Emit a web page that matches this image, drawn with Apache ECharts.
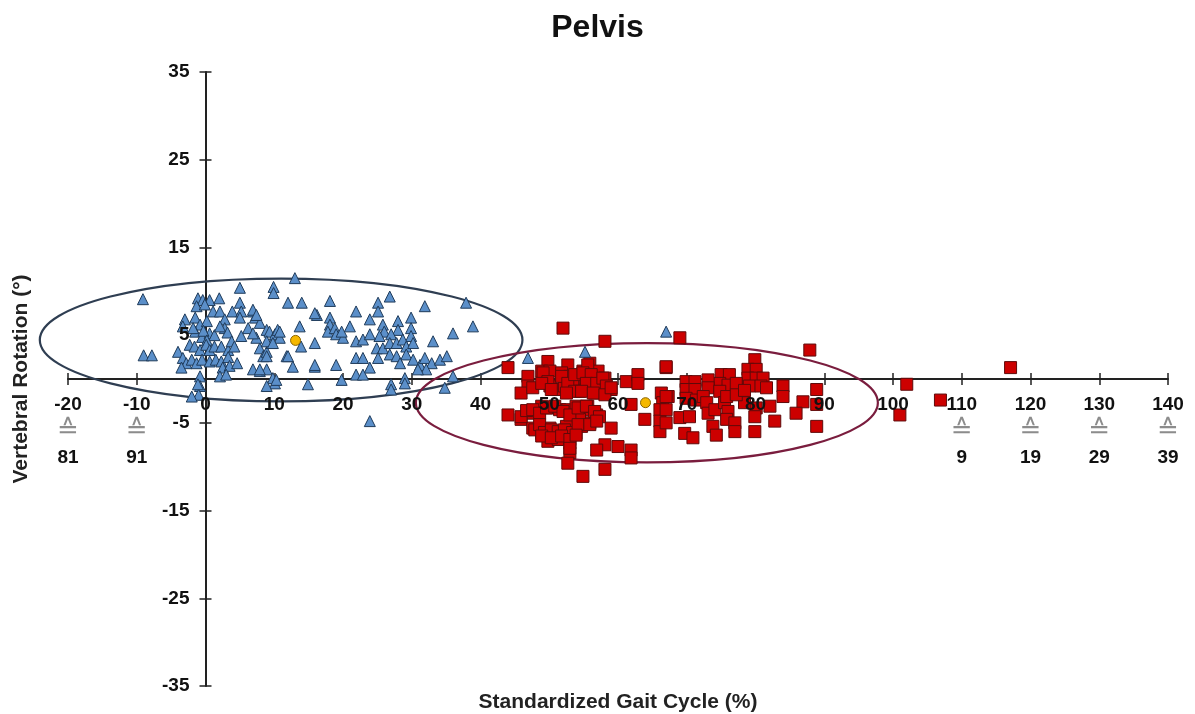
<!DOCTYPE html>
<html>
<head>
<meta charset="utf-8">
<script src="https://cdn.jsdelivr.net/npm/echarts@6/dist/echarts.min.js"></script>
<style>
  html, body { margin: 0; padding: 0; background: #fff; }
  #chart { width: 1195px; height: 714px; }
</style>
</head>
<body>
<div id="chart"></div>
<script>
// x axis ticks and the second label row (gait cycle of the other side)
const xTicks = [-20, -10, 0, 10, 20, 30, 40, 50, 60, 70, 80, 90, 100, 110, 120, 130, 140]
const altTicks = [-20, -10, 110, 120, 130, 140]
const altLabels = ['81', '91', '9', '19', '29', '39']
const yTicks = [-35, -25, -15, -5, 5, 15, 25, 35]

// blue triangles (first group)
const blueTriangles = [
  [-9.1, 9.1], [-9.0, 2.7], [-7.8, 2.7],
  [13.0, 11.5], [5.0, 10.4], [9.9, 10.5], [9.9, 9.8], [12.0, 8.7], [14.0, 8.7], [16.2, 7.3],
  [-1.1, 9.2], [-0.4, 9.0], [0.6, 9.0], [2.0, 9.2],
  [-1.3, 8.3], [-0.1, 8.5], [1.1, 7.7], [2.1, 7.7],
  [3.9, 7.7], [5.0, 8.7], [5.2, 7.7], [5.0, 7.0],
  [6.9, 7.7], [7.2, 7.0], [7.9, 6.4], [8.9, 5.6], [9.3, 5.4], [6.2, 5.8], [5.2, 4.9],
  [-3.0, 6.8], [-3.3, 6.0],
  [-1.5, 7.0], [-0.8, 6.2], [0.2, 6.6], [-1.5, 5.4], [-0.5, 4.8], [0.6, 5.2], [-1.8, 5.8], [-0.3, 5.5], [1.3, 5.0], [0.2, 4.4],
  [2.8, 6.8], [2.8, 5.8], [3.2, 5.3], [2.1, 6.0],
  [-2.3, 3.9], [-1.6, 3.7], [-0.8, 3.3], [0.1, 3.9], [0.6, 3.3],
  [1.3, 3.7], [2.3, 3.7], [3.3, 3.3], [3.8, 4.3], [4.2, 3.7],
  [-4.0, 3.1], [-3.3, 2.4], [-2.8, 1.8], [-3.5, 1.3],
  [-2.0, 2.2], [-1.3, 1.8], [-0.5, 2.2], [0.6, 2.0], [1.5, 2.2], [2.3, 2.0], [3.3, 2.5], [2.5, 1.3], [3.5, 1.5], [4.6, 1.8],
  [-0.8, 0.3], [-0.8, -0.8], [-1.0, -1.8], [2.1, 0.3], [3.0, 0.5],
  [6.9, 1.1], [7.9, 0.9], [8.9, 1.1], [9.8, 0.1], [10.1, -0.5], [8.9, -0.8],
  [7.9, 3.5], [8.4, 2.6], [8.9, 3.1], [9.6, 4.1], [10.1, 5.1], [10.5, 5.6], [10.8, 4.7], [11.8, 2.6],
  [7.4, 4.7], [6.9, 5.2], [8.9, 4.3], [9.8, 4.1], [10.8, 5.4], [8.9, 2.6], [7.9, 1.1], [6.9, 7.9], [7.4, 7.3],
  [13.9, 3.7], [12.0, 2.6], [12.7, 1.4], [15.9, 4.1], [15.9, 1.4], [14.9, -0.6], [10.3, -0.1], [-1.1, -0.6], [-2.0, -2.0],
  [13.7, 6.0],
  [18.1, 8.9], [26.8, 9.4], [25.1, 8.7], [25.1, 7.7], [31.9, 8.3], [37.9, 8.7], [15.9, 7.5], [21.9, 7.7],
  [18.1, 7.0], [18.1, 6.2], [17.8, 5.4], [18.8, 5.8], [19.0, 5.1], [20.0, 4.7], [19.8, 5.4], [21.0, 6.0], [23.9, 6.8],
  [25.8, 6.2], [26.0, 5.4], [25.3, 4.9], [28.0, 6.6], [28.0, 5.6], [27.0, 5.1], [29.9, 7.0], [29.9, 5.8], [29.9, 4.9],
  [36.0, 5.2], [38.9, 6.0], [33.1, 4.3], [21.9, 4.3], [22.9, 4.5], [23.9, 5.1],
  [24.9, 3.5], [25.8, 3.5], [26.8, 4.1], [27.8, 4.1], [28.7, 4.5], [29.2, 3.7], [30.2, 4.1],
  [21.9, 2.4], [22.9, 2.4], [25.1, 2.4], [26.8, 2.8], [27.8, 2.6], [29.2, 2.8], [28.3, 1.8], [30.2, 2.2], [31.2, 1.6],
  [31.9, 2.4], [32.9, 1.8], [34.1, 2.2], [35.1, 2.6], [32.1, 1.1], [30.9, 1.1],
  [15.9, 1.6], [19.0, 1.6], [23.9, 1.3], [21.9, 0.5], [22.9, 0.5], [19.8, -0.1], [27.0, -0.6], [27.0, -1.2],
  [29.0, 0.1], [29.0, -0.5], [36.0, 0.3], [34.8, -1.0], [23.9, -4.8],
  [46.9, 2.4], [55.2, 3.1], [67.0, 5.4]
]

// red squares (second group)
const redSquares = [
  [52.0, 5.8], [58.1, 4.3], [44.0, 1.3],
  [49.8, 2.0], [48.9, 0.9], [50.1, 0.9],
  [52.7, 1.6], [51.8, 0.7], [53.0, 0.3],
  [55.9, 1.8], [54.9, 0.9], [56.1, 0.7], [55.2, -0.1], [57.1, 0.9], [58.1, 0.1],
  [46.9, 0.3], [46.9, -0.8], [45.9, -1.6], [47.6, -1.0],
  [61.2, -0.3], [62.9, 0.5], [62.9, -0.5], [67.0, 1.3], [59.0, -1.2],
  [50.1, -0.8], [51.3, -1.2], [52.2, -0.8], [53.4, -0.8], [54.4, -1.4], [55.4, -1.2], [56.6, -1.6], [57.6, -1.0],
  [66.3, -1.6], [67.3, -2.0], [66.5, -2.7], [61.9, -2.9], [44.0, -4.1],
  [45.9, -4.6], [47.6, -3.9], [48.9, -3.1], [50.1, -3.3], [51.5, -3.5], [52.7, -3.5], [53.9, -3.1], [54.9, -3.5],
  [55.6, -3.1], [56.9, -4.1], [55.9, -5.0], [54.4, -4.6],
  [63.9, -4.6], [66.1, -3.5], [66.1, -4.8], [66.1, -6.0],
  [47.6, -5.6], [48.9, -6.2], [50.1, -5.6], [51.3, -6.2], [52.5, -5.4], [53.0, -6.5], [53.9, -6.2], [54.7, -5.4],
  [49.8, -7.1], [51.3, -6.9], [53.0, -7.3], [53.0, -8.4],
  [59.0, -5.6], [58.1, -7.5], [56.9, -8.1], [60.0, -7.7], [61.9, -8.1], [61.9, -9.0],
  [52.7, -9.6], [54.9, -11.1], [58.1, -10.3],
  [49.1, 0.7], [49.8, -0.3], [48.9, -0.5], [50.3, -1.2],
  [51.8, 0.3], [52.7, -0.5], [53.7, 0.5], [53.7, -1.4], [52.5, -1.6],
  [55.6, 1.6], [54.9, 0.7], [56.1, 0.5], [55.4, -0.5], [56.9, -0.5], [54.7, -1.4], [56.4, -1.6], [57.8, 0.1],
  [58.3, -0.8], [58.1, -1.8], [59.0, -1.0],
  [45.9, -4.3], [46.7, -3.6], [47.6, -3.5], [48.6, -3.9], [49.6, -3.3], [50.8, -3.1], [52.0, -3.7], [53.0, -4.1],
  [54.2, -3.3], [55.4, -3.1], [56.6, -3.7], [57.3, -4.3],
  [47.9, -5.8], [48.6, -5.2], [49.3, -6.1], [50.3, -5.8], [51.3, -6.0], [52.2, -5.8], [53.4, -6.1], [54.2, -5.2],
  [55.9, -5.2], [56.9, -4.8],
  [48.9, -6.5], [50.3, -6.7], [51.8, -6.5], [53.0, -6.9], [53.0, -7.9], [53.9, -6.4],
  [69.0, 4.7], [87.9, 3.3], [67.0, 1.4],
  [79.9, 2.2], [78.9, 1.1], [80.1, 1.1], [78.9, 0.1], [80.1, 0.1], [81.1, 0.1], [79.1, -0.8], [80.8, -0.8],
  [75.0, 0.5], [76.2, 0.5], [74.8, -0.5], [76.0, -0.7], [77.2, -0.5], [73.1, -0.1], [73.1, -1.0], [74.8, -1.4],
  [69.9, -0.3], [71.2, -0.3], [69.9, -1.2], [71.2, -1.2], [69.9, -2.2], [71.4, -2.4], [72.4, -2.0],
  [84.0, -0.8], [84.0, -2.0], [88.9, -1.2], [86.9, -2.6], [85.9, -3.9], [88.9, -2.9],
  [67.0, -2.0], [67.0, -3.5], [67.0, -5.0], [69.0, -4.4], [70.4, -4.3], [69.7, -6.2], [70.9, -6.7],
  [72.9, -2.7], [73.1, -3.9], [74.1, -3.5], [73.8, -5.4], [74.3, -6.4], [75.5, -2.7], [76.0, -3.7], [75.8, -4.6],
  [77.0, -5.0], [77.0, -6.0], [78.4, -2.7], [80.1, -3.3], [79.9, -4.3], [82.1, -3.1], [82.8, -4.8], [79.9, -6.0],
  [88.9, -5.4], [75.8, -2.0], [77.2, -1.8], [81.6, -1.0], [78.4, -1.3],
  [102.0, -0.6], [101.0, -4.1], [106.9, -2.4], [117.1, 1.3]
]

// group means
const means = [[13.1, 4.4], [64.0, -2.7]]

// ellipses: centre x, centre y, half width, half height
const ellipses = [[11.0, 4.45, 35.1, 7.0], [64.2, -2.7, 33.6, 6.8]]
const ellipseColors = ['#2f3e52', '#7a1d3e']

const FONT = "'Liberation Sans', Arial, sans-serif"

// grid box in px; the axes are shifted onto the zero lines
const GRID = { left: 68, right: 27, top: 72, bottom: 28 }
const gridW = 1195 - GRID.left - GRID.right
const gridH = 714 - GRID.top - GRID.bottom
const xZeroShift = gridH * (0 - -35) / 70          // bottom edge -> y = 0
const yZeroShift = gridW * (0 - -20) / 160         // left edge -> x = 0

const chart = echarts.init(document.getElementById('chart'))

const xLabel = v => {
  const i = altTicks.indexOf(v)
  if (i >= 0) return '{a|' + v + '}\n{b|≙}\n{a|' + altLabels[i] + '}'
  return '{a|' + v + '}'
}

const lineStyle = { color: '#222', width: 2 }
const tickStyle = { color: '#222', width: 1.5 }
const titleStyle = { fontFamily: FONT, fontSize: 21, fontWeight: 'bold', color: '#222' }
const labelStyle = { fontFamily: FONT, fontSize: 19, fontWeight: 'bold', color: '#111' }
const hiddenDot = { color: 'rgba(0,0,0,0)', borderWidth: 0 }

const option = {
  animation: false,
  backgroundColor: '#fff',
  title: {
    text: 'Pelvis',
    left: 'center',
    top: 7,
    textStyle: { fontFamily: FONT, fontSize: 32, fontWeight: 'bold', color: '#111' }
  },
  grid: Object.assign({ containLabel: false, outerBoundsMode: 'none' }, GRID),
  xAxis: [
    {
      // names + downward ticks; tick labels come from the label series below
      type: 'value', position: 'bottom',
      min: -20, max: 140, interval: 10,
      offset: -xZeroShift,
      axisLine: { show: false, onZero: false },
      axisTick: { length: 6, lineStyle: tickStyle },
      splitLine: { show: false },
      axisLabel: { show: false },
      name: 'Standardized Gait Cycle (%)',
      nameLocation: 'middle',
      nameGap: 313,
      nameTextStyle: titleStyle
    },
    {
      // axis line + upward ticks
      type: 'value', position: 'top',
      min: -20, max: 140, interval: 10,
      offset: -(gridH - xZeroShift),
      axisLine: { onZero: false, lineStyle },
      axisTick: { length: 6, lineStyle: tickStyle },
      splitLine: { show: false },
      axisLabel: { show: false }
    }
  ],
  yAxis: [
    {
      type: 'value', position: 'left',
      min: -35, max: 35,
      offset: -yZeroShift,
      axisLine: { show: false, onZero: false },
      axisTick: { length: 6, customValues: yTicks, lineStyle: tickStyle },
      splitLine: { show: false },
      axisLabel: { show: false },
      name: 'Vertebral Rotation (°)',
      nameLocation: 'middle',
      nameGap: 174,
      nameTextStyle: titleStyle
    },
    {
      type: 'value', position: 'right',
      min: -35, max: 35,
      offset: -(gridW - yZeroShift),
      axisLine: { onZero: false, lineStyle },
      axisTick: { length: 6, customValues: yTicks, lineStyle: tickStyle },
      splitLine: { show: false },
      axisLabel: { show: false }
    }
  ],
  series: [
    {
      type: 'custom',
      name: 'ellipse',
      z: 1,
      silent: true,
      data: ellipses,
      renderItem: (params, api) => {
        const c = api.coord([api.value(0), api.value(1)])
        const s = api.size([api.value(2), api.value(3)])
        return {
          type: 'ellipse',
          shape: { cx: c[0], cy: c[1], rx: s[0], ry: s[1] },
          style: { fill: 'none', stroke: ellipseColors[params.dataIndex], lineWidth: 2.2 }
        }
      }
    },
    {
      type: 'scatter',
      name: 'late',
      z: 3,
      symbol: 'rect',
      symbolSize: 12,
      data: redSquares,
      itemStyle: { color: '#cc0000', borderColor: '#5e0a0a', borderWidth: 1, opacity: 1 }
    },
    {
      type: 'scatter',
      name: 'early',
      z: 4,
      symbol: 'triangle',
      symbolSize: 11,
      data: blueTriangles,
      itemStyle: { color: '#5b8fc9', borderColor: '#1f3b5a', borderWidth: 1, opacity: 1 }
    },
    {
      type: 'scatter',
      name: 'mean',
      z: 5,
      symbol: 'circle',
      symbolSize: 10,
      data: means,
      itemStyle: { color: '#f5b800', borderColor: '#8a6400', borderWidth: 1, opacity: 1 }
    },
    {
      // x tick labels, placed at each tick on the zero line, on a layer above the marks
      type: 'scatter',
      name: 'xTickLabels',
      zlevel: 1,
      z: 10,
      silent: true,
      symbol: 'circle',
      symbolSize: 2,
      itemStyle: hiddenDot,
      data: xTicks.map(v => [v, 0]),
      labelLayout: { hideOverlap: false },
      label: {
        show: true,
        position: 'bottom',
        distance: 11,
        opacity: 1,
        formatter: p => xLabel(p.value[0]),
        rich: {
          a: Object.assign({ lineHeight: 27 }, labelStyle),
          b: { fontFamily: 'DejaVu Sans', fontSize: 26, color: '#8c8c8c', lineHeight: 26 }
        }
      }
    },
    {
      // y tick labels, left of the zero line
      type: 'scatter',
      name: 'yTickLabels',
      zlevel: 1,
      z: 10,
      silent: true,
      symbol: 'circle',
      symbolSize: 2,
      itemStyle: hiddenDot,
      data: yTicks.map(v => [0, v]),
      label: Object.assign({
        show: true,
        position: 'left',
        distance: 15,
        opacity: 1,
        formatter: p => String(p.value[1])
      }, labelStyle)
    }
  ]
}

chart.setOption(option)
</script>
</body>
</html>
